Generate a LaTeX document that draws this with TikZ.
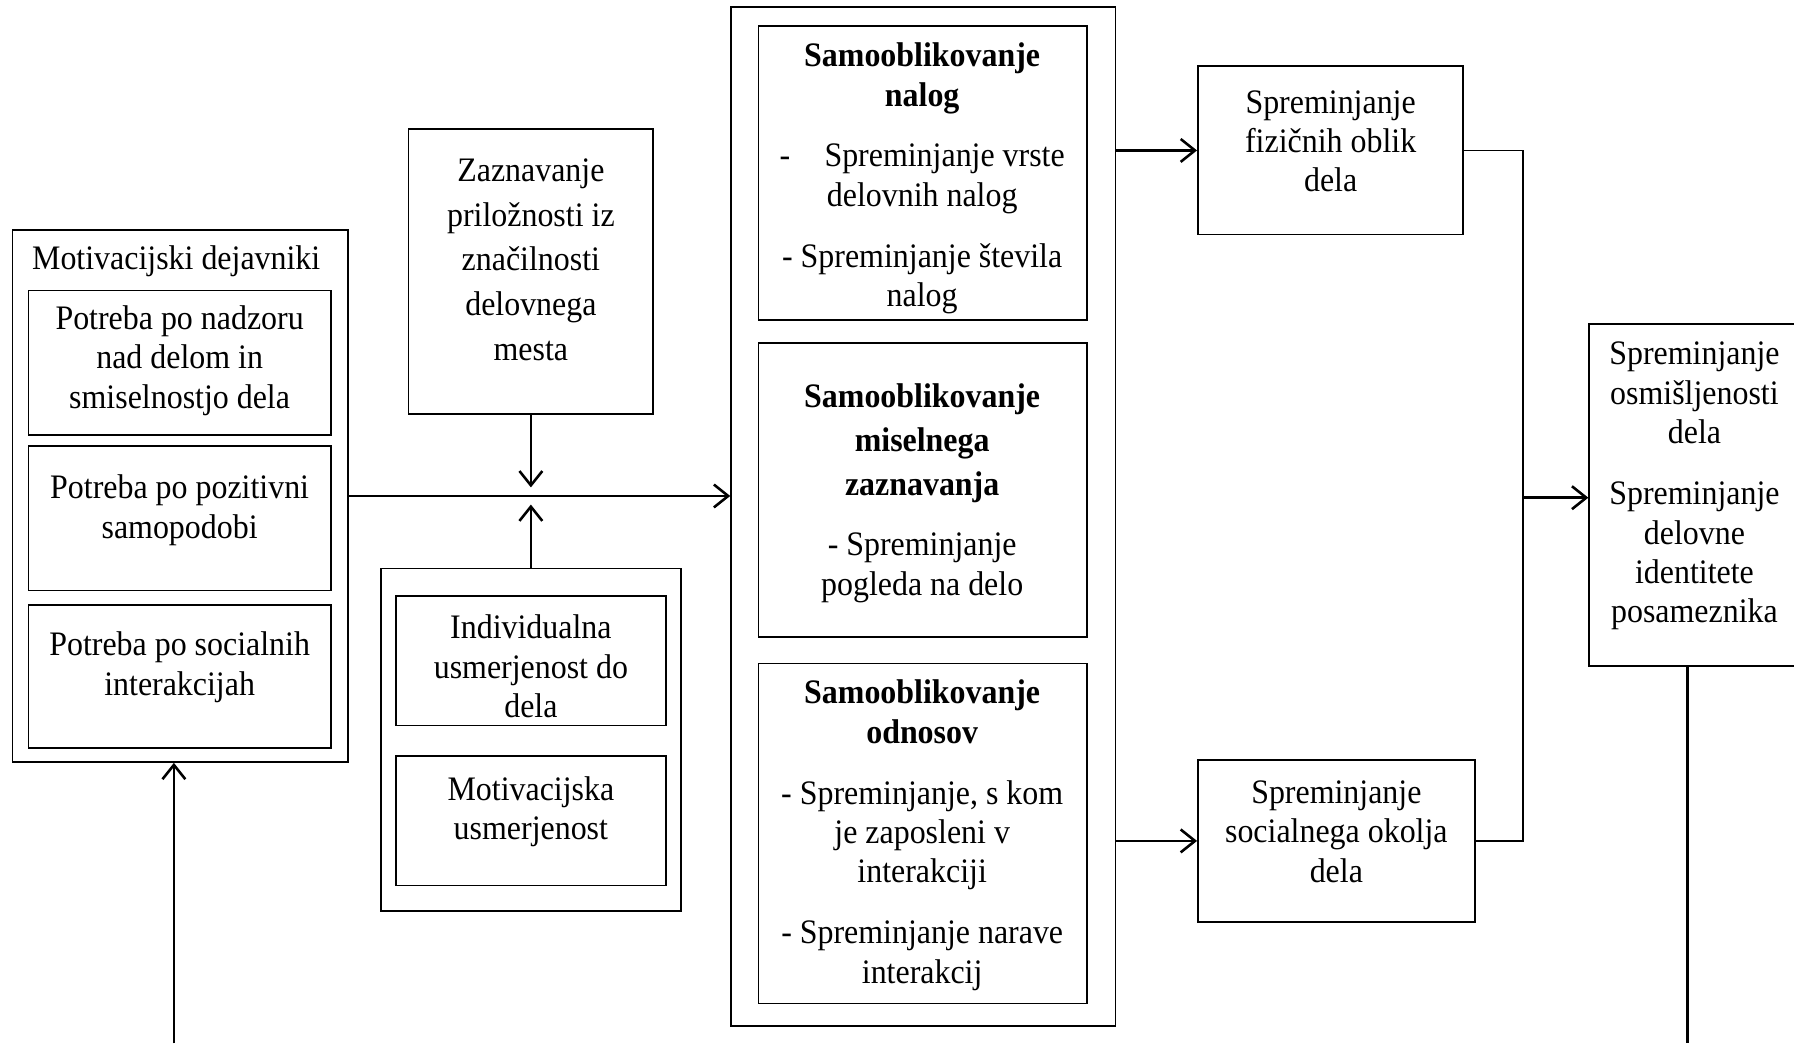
\documentclass[tikz,border=0pt]{standalone}
\usepackage{fontspec}
\setmainfont[FakeStretch=0.93]{Liberation Serif}
\usetikzlibrary{arrows.meta}
\usetikzlibrary{fit}

\tikzset{
  okvir/.style={draw, line width=0.6pt, inner sep=0pt},
  besedilo/.style={align=center, inner sep=0pt, font=\fontsize{12}{13.8}\selectfont},
  puscica/.style={line width=0.9pt, -{Straight Barb[length=5pt,width=8pt]}},
  crta/.style={line width=0.6pt}
}

\begin{document}
\begin{tikzpicture}[x=0.4pt, y=-0.4pt]
\useasboundingbox (0,0) rectangle (1568,912);
\node[okvir, fit={(11,201) (304,666)}] (motiv) {};
\node[okvir, fit={(25,254) (289,380)}] (nadzor) {};
\node[okvir, fit={(25,390) (289,516)}] (podoba) {};
\node[okvir, fit={(25,529) (289,654)}] (socint) {};
\node[okvir, fit={(357,113) (571,362)}] (zaz) {};
\node[okvir, fit={(333,497) (595,796)}] (usm) {};
\node[okvir, fit={(346,521) (582,634)}] (indiv) {};
\node[okvir, fit={(346,661) (582,774)}] (motusm) {};
\node[okvir, fit={(639,6) (975,897)}] (samo) {};
\node[okvir, fit={(663,23) (950,280)}] (nalog) {};
\node[okvir, fit={(663,300) (950,557)}] (misel) {};
\node[okvir, fit={(663,580) (950,877)}] (odnos) {};
\node[okvir, fit={(1047,58) (1279,205)}] (fiz) {};
\node[okvir, fit={(1047,664) (1289,806)}] (soc) {};
\node[okvir, fit={(1389,283) (1574,582)}] (desno) {};

\node[besedilo] (motivT) at (154,228) {Motivacijski dejavniki};
\node[besedilo] (nadzorT) at (157,315) {Potreba po nadzoru\\nad delom in\\smiselnostjo dela};
\node[besedilo] (podobaT) at (157,446) {Potreba po pozitivni\\samopodobi};
\node[besedilo] (socintT) at (157,583) {Potreba po socialnih\\interakcijah};
\node[besedilo, font=\fontsize{12}{15.6}\selectfont] (zazT) at (464,227) {Zaznavanje\\priložnosti iz\\značilnosti\\delovnega\\mesta};
\node[besedilo] (indivT) at (464,582.5) {Individualna\\usmerjenost do\\dela};
\node[besedilo] (motusmT) at (464,709.5) {Motivacijska\\usmerjenost};
\node[besedilo] (nalogT) at (806,156) {\textbf{Samooblikovanje}\\\textbf{nalog}\\[7.4pt]-\hspace{1em}Spreminjanje vrste\\delovnih nalog\\[7.4pt]- Spreminjanje števila\\nalog};
\node[besedilo] (miselT) at (806,431) {\textbf{Samooblikovanje}\\[1.6pt]\textbf{miselnega}\\[1.6pt]\textbf{zaznavanja}\\[7.4pt]- Spreminjanje\\pogleda na delo};
\node[besedilo] (odnosT) at (806,730) {\textbf{Samooblikovanje}\\\textbf{odnosov}\\[7.4pt]- Spreminjanje, s kom\\je zaposleni v\\interakciji\\[7.4pt]- Spreminjanje narave\\interakcij};
\node[besedilo] (fizT) at (1163,123.5) {Spreminjanje\\fizičnih oblik\\dela};
\node[besedilo] (socT) at (1168,727) {Spreminjanje\\socialnega okolja\\dela};
\node[besedilo] (desnoT) at (1481,425) {Spreminjanje\\osmišljenosti\\dela\\[7.4pt]Spreminjanje\\delovne\\identitete\\posameznika};

\coordinate (stik) at (zaz.south |- motiv.east);
\coordinate (zbir) at (1331,435);
\coordinate (dno1) at (152,912);
\coordinate (dno2) at (1475,912);

\draw[puscica] (motiv.east) -- (motiv.east -| samo.west);
\draw[puscica, shorten >=3pt] (zaz.south) -- (stik);
\draw[puscica, shorten >=3pt] (usm.north) -- (stik);
\draw[puscica] (fiz.west -| samo.east) -- (fiz.west);
\draw[puscica] (soc.west -| samo.east) -- (soc.west);
\draw[crta] (fiz.east) -| (zbir) |- (soc.east);
\draw[puscica] (zbir) -- (zbir -| desno.west);
\draw[line width=0.9pt] (dno2 |- desno.south) -- (dno2);
\draw[puscica] (dno1) -- (dno1 |- motiv.south);
\end{tikzpicture}
\end{document}
